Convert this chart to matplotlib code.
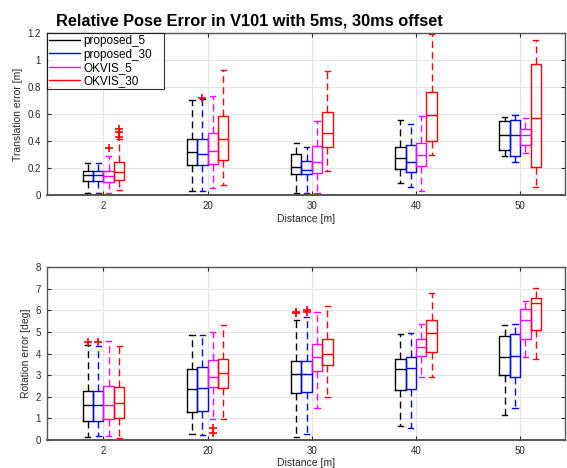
import matplotlib
matplotlib.use('Agg')
import matplotlib.pyplot as plt
from matplotlib.lines import Line2D

plt.rcParams['font.family'] = ['Liberation Sans', 'DejaVu Sans']

distances = ['2', '20', '30', '40', '50']
methods = ['proposed_5', 'proposed_30', 'OKVIS_5', 'OKVIS_30']

# Translation error [m], per distance: (whisker low, q1, median, q3, whisker high)
trans_prop5 = [(0.02, 0.108, 0.15, 0.18, 0.24), (0.03, 0.224, 0.32, 0.42, 0.705),
               (0.022, 0.155, 0.21, 0.303, 0.385), (0.089, 0.195, 0.276, 0.357, 0.56),
               (0.288, 0.335, 0.444, 0.552, 0.58)]
trans_prop30 = [(0.015, 0.108, 0.15, 0.18, 0.24), (0.03, 0.224, 0.31, 0.42, 0.712),
                (0.022, 0.155, 0.19, 0.256, 0.36), (0.064, 0.17, 0.244, 0.37, 0.53),
                (0.246, 0.29, 0.444, 0.557, 0.596)]
trans_okvis5 = [(0.02, 0.098, 0.143, 0.18, 0.29), (0.056, 0.23, 0.33, 0.463, 0.737),
                (0.017, 0.163, 0.25, 0.367, 0.55), (0.032, 0.217, 0.296, 0.385, 0.59),
                (0.315, 0.37, 0.45, 0.49, 0.57)]
trans_okvis30 = [(0.04, 0.113, 0.175, 0.244, 0.42), (0.08, 0.26, 0.414, 0.59, 0.93),
                 (0.18, 0.355, 0.46, 0.62, 0.92), (0.30, 0.404, 0.594, 0.766, 1.195),
                 (0.064, 0.21, 0.57, 0.97, 1.15)]
# Outliers, per distance
trans_prop5_out = [[], [], [], [], []]
trans_prop30_out = [[], [0.722], [], [], []]
trans_okvis5_out = [[0.35], [], [], [], []]
trans_okvis30_out = [[0.435, 0.47, 0.49], [], [], [], []]

# Rotation error [deg], per distance: (whisker low, q1, median, q3, whisker high)
rot_prop5 = [(0.12, 0.86, 1.6, 2.28, 4.38), (0.26, 1.31, 2.38, 3.27, 4.85),
             (0.15, 2.2, 3.07, 3.64, 5.54), (0.65, 2.3, 3.27, 3.73, 4.9),
             (1.17, 3.0, 3.86, 4.8, 5.31)]
rot_prop30 = [(0.18, 0.86, 1.6, 2.28, 4.35), (0.23, 1.34, 2.42, 3.36, 4.88),
              (0.3, 2.22, 3.08, 3.64, 5.68), (0.54, 2.35, 3.35, 3.86, 4.98),
              (1.5, 2.9, 3.9, 4.89, 5.36)]
rot_okvis5 = [(0.18, 0.97, 1.6, 2.5, 4.6), (0.96, 2.47, 2.9, 3.7, 5.0),
              (1.5, 3.22, 3.86, 4.46, 5.91), (2.93, 3.89, 4.32, 4.66, 5.36),
              (3.83, 4.7, 5.56, 6.08, 6.45)]
rot_okvis30 = [(0.1, 1.0, 1.73, 2.45, 4.35), (0.96, 2.39, 3.12, 3.75, 5.32),
               (1.99, 3.47, 3.97, 4.7, 6.23), (2.93, 4.06, 4.95, 5.54, 6.8),
               (3.74, 5.08, 6.36, 6.56, 7.05)]
rot_prop5_out = [[4.55], [], [5.87, 5.95], [], []]
rot_prop30_out = [[4.55], [], [5.92, 6.02], [], []]
rot_okvis5_out = [[], [0.34, 0.57], [], [], []]
rot_okvis30_out = [[], [], [], [], []]

colors = ['k', '#0000ff', '#ff00ff', '#ff0000']
offsets = [-0.15, -0.05, 0.05, 0.15]
tick_col = '#262626'


# Builds the stats dicts that bxp needs
def make_stats(boxes, outliers):
    stats = []
    for b, out in zip(boxes, outliers):
        stats.append(dict(whislo=b[0], q1=b[1], med=b[2], q3=b[3], whishi=b[4], fliers=out))
    return stats


# Draws one panel of grouped boxes
def draw_panel(ax, series, outs, ylim, yticks, ylabel):
    for k in range(len(series)):
        c = colors[k]
        pos = [i + 1 + offsets[k] for i in range(len(distances))]
        ax.bxp(make_stats(series[k], outs[k]), positions=pos, widths=0.1, capwidths=0.05,
               manage_ticks=False,
               boxprops=dict(color=c, lw=1.0),
               medianprops=dict(color=c, lw=1.0),
               whiskerprops=dict(color=c, lw=1.0, ls=(0, (5, 3))),
               capprops=dict(color=c, lw=1.0),
               flierprops=dict(marker='+', markeredgecolor='r', markersize=6, ls='none', mew=1.2))
    ax.set_xlim(0.455, 5.43)
    ax.set_ylim(ylim)
    ax.set_xticks(range(1, len(distances) + 1), distances)
    ax.set_yticks(yticks, [('%g' % t) for t in yticks])
    ax.grid(True, color='#e3e3e3', lw=0.8)
    ax.set_axisbelow(True)
    ax.tick_params(direction='in', top=True, right=True, length=3, labelsize=7,
                   colors=tick_col, pad=4, width=0.8)
    for s in ax.spines.values():
        s.set_color('#555555')
        s.set_linewidth(1.0)
    ax.spines['bottom'].set_linewidth(1.4)
    ax.set_xlabel('Distance [m]', fontsize=7.5, color=tick_col, labelpad=2)
    ax.set_ylabel(ylabel, fontsize=7.5, color=tick_col, labelpad=3)


fig = plt.figure(figsize=(5.67, 4.68), dpi=100)
ax1 = fig.add_axes([0.0824, 0.5823, 0.914, 0.3472])
ax2 = fig.add_axes([0.0824, 0.0598, 0.914, 0.369])

draw_panel(ax1, [trans_prop5, trans_prop30, trans_okvis5, trans_okvis30],
           [trans_prop5_out, trans_prop30_out, trans_okvis5_out, trans_okvis30_out],
           (0, 1.2), [0, 0.2, 0.4, 0.6, 0.8, 1, 1.2], 'Translation error [m]')
draw_panel(ax2, [rot_prop5, rot_prop30, rot_okvis5, rot_okvis30],
           [rot_prop5_out, rot_prop30_out, rot_okvis5_out, rot_okvis30_out],
           (0, 8), list(range(0, 9)), 'Rotation error [deg]')

handles = [Line2D([], [], color=c, lw=1.0) for c in colors]
leg = ax1.legend(handles, methods, loc='upper left', bbox_to_anchor=(0, 1, 0.2263, 0),
                 mode='expand', fontsize=8.5, frameon=True, fancybox=False,
                 borderaxespad=0, labelspacing=0.12, handlelength=2.6, handletextpad=0.3,
                 borderpad=0.18)
leg.get_frame().set_edgecolor('k')
leg.get_frame().set_linewidth(0.8)

fig.text(56 / 567, 1 - 25 / 468, 'Relative Pose Error in V101 with 5ms, 30ms offset',
         fontsize=11.8, fontweight='bold', ha='left', va='baseline')

fig.savefig('out.png', dpi=100)
